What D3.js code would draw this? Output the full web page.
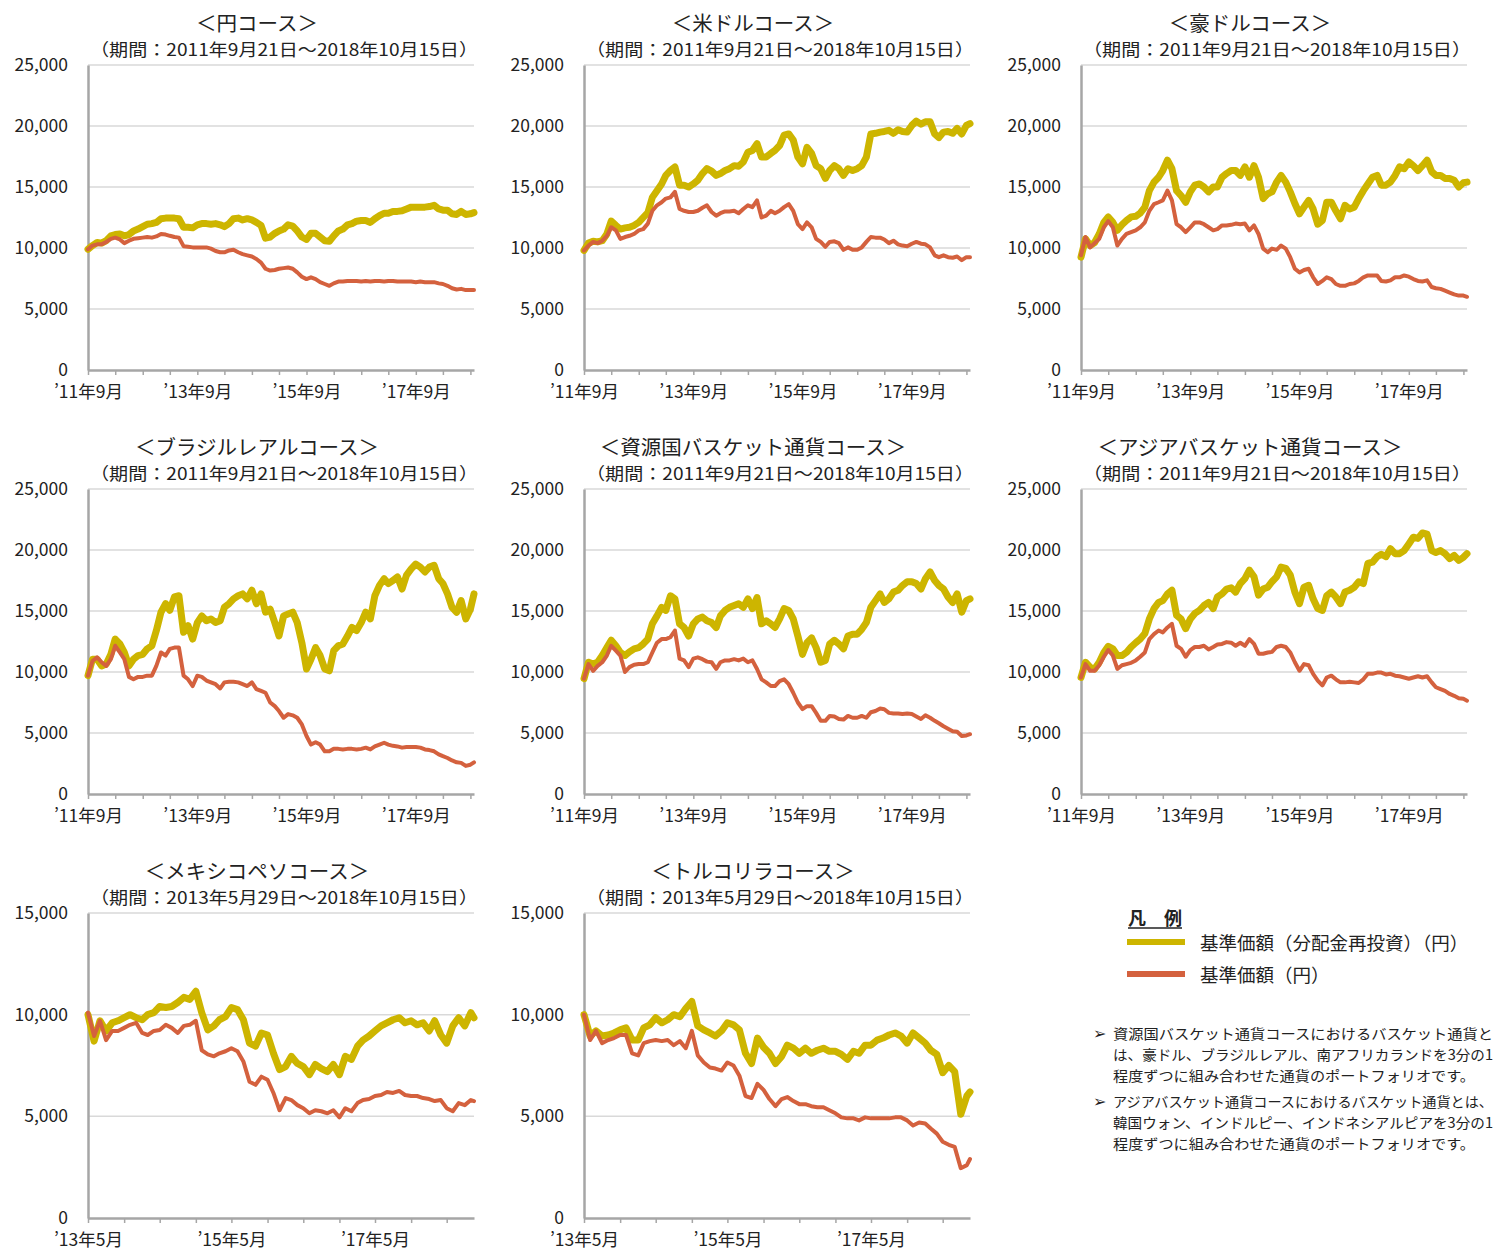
<!DOCTYPE html>
<html lang="ja">
<head>
<meta charset="utf-8">
<script src="https://cdn.jsdelivr.net/npm/d3@7"></script>
<style>
  body { margin: 0; background: #fff; }
  svg text { font-family: "Noto Sans CJK JP", "Noto Sans", sans-serif; fill: #222; }
</style>
</head>
<body>
<svg id="chart" width="1504" height="1251"></svg>
<script>
// Monthly readings (one value per month from the start date, last value = final day)

const yenReinvest = [9900,10200,10450,10400,10600,11000,11100,11150,11000,11100,
  11400,11550,11750,11950,12000,12100,12400,12450,12450,12450,
  12400,11700,11700,11650,11900,12000,12000,11950,12000,11900,
  11750,12000,12400,12450,12300,12400,12300,12100,11850,10800,
  10900,11200,11400,11550,11900,11800,11400,10900,10700,11200,
  11200,10900,10600,10550,11000,11400,11550,11900,12000,12200,
  12250,12250,12100,12400,12650,12850,12850,13000,13000,13050,
  13200,13350,13350,13350,13350,13400,13500,13200,13100,13100,
  12800,12750,13000,12750,12800,12900];
const yenNav = [9900,10200,10300,10300,10500,10750,10850,10700,10400,10600,
  10750,10800,10850,10900,10850,10950,11150,11100,11000,10900,
  10850,10150,10100,10050,10050,10050,10050,9950,9750,9650,
  9650,9800,9850,9650,9500,9400,9300,9100,8800,8300,
  8150,8200,8300,8350,8400,8300,8000,7650,7450,7600,
  7450,7200,7050,6900,7100,7250,7250,7300,7300,7300,
  7250,7300,7250,7300,7300,7250,7300,7300,7250,7250,
  7250,7250,7200,7250,7200,7200,7200,7100,7050,6900,
  6700,6600,6650,6550,6550,6550];

const usdReinvest = [9800,10400,10550,10500,10600,11150,12200,11850,11550,11650,
  11700,11850,12100,12500,12900,14150,14700,15250,15950,16350,
  16650,15150,15150,15000,15250,15550,16100,16500,16300,15950,
  16100,16350,16500,16750,16700,17050,17850,18000,18550,17450,
  17450,17750,18000,18400,19250,19350,18850,17450,16900,18250,
  17750,16750,16500,15700,16350,16750,16500,15950,16500,16350,
  16500,16750,17450,19350,19400,19500,19550,19650,19400,19700,
  19550,19500,20050,20400,20150,20350,20350,19350,19050,19500,
  19550,19400,19800,19350,20050,20200];
const usdNav = [9800,10200,10500,10400,10600,11000,11700,11450,10750,10900,
  11000,11150,11450,11550,12000,13050,13500,13750,14050,14150,
  14600,13200,13050,12950,12950,13050,13300,13500,12950,12650,
  12850,13000,13000,13050,12850,13200,13500,13350,13900,12500,
  12650,13050,12850,13050,13350,13600,13050,11950,11550,12100,
  11700,10750,10500,10100,10500,10550,10400,9850,10050,9850,
  9850,10050,10500,10900,10850,10850,10700,10400,10600,10300,
  10200,10150,10350,10500,10350,10300,10050,9400,9250,9400,
  9250,9200,9300,9000,9250,9250];

const audReinvest = [9250,10750,10200,10450,11150,12100,12550,12100,11450,11900,
  12250,12550,12600,12850,13350,14700,15400,15800,16350,17200,
  16500,14700,14300,13750,14600,15150,15250,15000,14600,15000,
  15000,15800,16100,16350,16350,15950,16650,15800,16750,15800,
  14050,14450,14600,15400,15950,15400,14600,13650,12800,13350,
  13900,13200,11950,12250,13750,13750,13050,12400,13500,13200,
  13350,14050,14700,15250,15800,15950,15150,15150,15400,15950,
  16650,16500,17050,16750,16350,16750,17200,16250,15950,15950,
  15700,15700,15550,15000,15350,15400];
const audNav = [9400,10900,10050,10400,10750,11700,12200,11700,10200,10750,
  11150,11300,11450,11700,12100,13050,13600,13750,13900,14700,
  13900,11950,11700,11300,11700,12100,12100,11950,11700,11450,
  11550,11850,11850,11900,12000,11950,12000,11450,11850,11150,
  9950,9650,9950,9850,10200,9950,9250,8300,8000,8200,
  8300,7600,7050,7300,7600,7450,7050,6900,6900,7050,
  7100,7300,7600,7750,7750,7750,7300,7250,7350,7600,
  7600,7750,7650,7450,7300,7250,7350,6800,6700,6650,
  6500,6350,6200,6100,6100,6000];

const brlReinvest = [9700,11050,11050,10500,10650,11450,12700,12300,11600,10500,
  11050,11350,11450,11900,12150,13400,14900,15600,15050,16150,
  16250,13250,13800,12700,14050,14600,14200,14350,14050,14200,
  15300,15600,16000,16250,16400,16000,16700,15600,16400,14900,
  15150,14050,12950,14600,14750,14900,14050,12400,10250,11050,
  12000,11350,10250,10100,11750,12150,12300,12950,13650,13400,
  14050,14900,14350,16250,17100,17650,17250,17500,17800,16800,
  17950,18450,18850,18600,18200,18600,18750,17650,17250,16400,
  15300,14900,15850,14350,15150,16400];
const brlNav = [9700,10900,11200,10800,10500,11050,12150,11600,11050,9600,
  9400,9600,9600,9700,9700,10500,11600,11350,11900,12000,
  12000,9700,9400,8850,9700,9600,9300,9150,9000,8650,
  9150,9200,9200,9150,9000,8850,9150,8600,8450,8300,
  7500,7200,6800,6250,6550,6450,6250,5700,4750,4050,
  4250,4050,3500,3500,3700,3700,3650,3700,3700,3650,
  3700,3800,3650,3900,4050,4200,4050,3950,3900,3800,
  3850,3850,3850,3800,3650,3600,3500,3250,3100,2950,
  2750,2600,2550,2300,2400,2600];

const resReinvest = [9450,10800,10650,10800,11350,12000,12600,12150,11600,11350,
  11650,11900,12000,12300,12700,13950,14600,15300,15050,16250,
  16000,13950,13650,12950,13950,14350,14500,14200,14050,13650,
  14600,15050,15300,15450,15600,15300,16000,15200,16100,13950,
  14200,13950,13650,14350,15200,15050,14350,12950,11450,12400,
  12800,12000,10800,10950,12300,12600,12300,11900,12950,13100,
  13100,13500,14050,15300,15850,16400,15700,16000,16550,16700,
  17100,17400,17400,17250,16800,17650,18200,17500,17100,16800,
  16150,15700,16400,14900,15850,16000];
const resNav = [9450,10650,10100,10500,10800,11350,12150,11750,11350,10000,
  10400,10600,10650,10650,10800,11600,12400,12700,12700,12850,
  13400,11100,10950,10400,11100,11200,11050,10850,10800,10250,
  10800,10950,10950,11050,10950,11100,10800,10950,10250,9400,
  9150,8850,8850,9250,9400,9000,8300,7500,6950,7200,
  7200,6650,6000,6000,6400,6350,6150,6100,6400,6250,
  6250,6400,6250,6700,6800,7000,6950,6650,6600,6600,
  6550,6600,6550,6350,6150,6450,6250,6000,5800,5550,
  5350,5150,5100,4750,4800,4900];

const asiaReinvest = [9550,10800,10400,10250,10800,11600,12100,11900,11350,11350,
  11600,12050,12400,12700,13150,14350,15200,15700,15850,16400,
  16700,14650,14350,13550,14350,14800,15050,15450,15700,15200,
  16150,16400,16800,16900,16550,17250,17650,18350,17800,16300,
  16800,16950,17400,17800,18600,18500,17950,16550,15600,16950,
  17100,16000,15200,15050,16250,16550,16150,15600,16550,16700,
  16950,17400,17250,18900,19000,19450,19650,19450,20100,19700,
  19700,19950,20500,21050,20950,21400,21300,19950,19800,19950,
  19700,19300,19550,19150,19400,19700];
const asiaNav = [9550,10650,10100,10100,10550,11250,11800,11350,10250,10550,
  10650,10750,10950,11250,11600,12700,13100,13400,13250,13650,
  13950,12150,11900,11250,11800,12050,12050,12150,11850,12050,
  12250,12300,12450,12400,12150,12400,12150,12700,12300,11500,
  11500,11600,11650,12050,12150,12050,11600,10800,10100,10650,
  10550,9850,9300,8900,9550,9700,9400,9150,9150,9200,
  9150,9100,9400,9850,9850,9950,9950,9800,9850,9700,
  9650,9550,9450,9550,9650,9550,9650,9150,8750,8600,
  8450,8200,8050,7850,7800,7650];

const mxnReinvest = [10000,8700,9700,9200,9600,9700,9850,10000,9850,9750,
  10000,10100,10400,10350,10400,10600,10850,10750,11150,10100,
  9250,9450,9750,9900,10350,10250,9750,8600,8450,9100,
  9000,8100,7300,7450,7950,7600,7450,7050,7550,7350,
  7200,7550,7050,7950,7800,8450,8750,8950,9200,9450,
  9600,9750,9850,9600,9700,9500,9600,9200,9700,9000,
  8600,9450,9850,9450,10100,9850];
const mxnNav = [10100,8950,9700,8750,9200,9200,9350,9500,9600,9100,
  9000,9200,9250,9500,9350,9100,9450,9500,9700,8250,
  8050,7950,8100,8200,8350,8200,7700,6700,6550,6950,
  6800,6150,5300,5900,5800,5550,5400,5150,5300,5250,
  5150,5300,4950,5400,5250,5650,5800,5850,6000,6050,
  6200,6150,6250,6050,6000,6000,5900,5850,5750,5800,
  5400,5250,5650,5550,5800,5750];

const tryReinvest = [10000,8950,9200,8950,9000,9100,9250,9350,8750,8750,
  9350,9500,9850,9600,9750,10000,9900,10300,10650,9450,
  9250,9100,8950,9200,9600,9500,9250,8100,7600,8850,
  8400,8100,7600,7950,8500,8350,8100,8350,8100,8250,
  8350,8200,8200,8050,7800,8200,8100,8500,8500,8750,
  8850,9000,9100,8950,8600,9100,8850,8600,8250,8050,
  7150,7500,7200,5100,6000,6200];
const tryNav = [10000,8750,9200,8600,8750,8850,9000,9000,8100,8000,
  8600,8700,8750,8700,8750,8500,8700,8350,9200,8000,
  7650,7400,7350,7250,7650,7500,7000,6000,5900,6600,
  6300,5850,5500,5850,5950,5750,5600,5600,5500,5450,
  5450,5300,5150,4950,4900,4900,4800,4950,4900,4900,
  4900,4900,4950,4950,4800,4550,4700,4650,4400,4150,
  3750,3600,3500,2450,2600,2900];

const longTickLabels = ["’11年9月", "’13年9月", "’15年9月", "’17年9月"];
const shortTickLabels = ["’13年5月", "’15年5月", "’17年5月"];

const longPeriod = "（期間：2011年9月21日～2018年10月15日）";
const shortPeriod = "（期間：2013年5月29日～2018年10月15日）";

const legendLabels = ["基準価額（分配金再投資）（円）", "基準価額（円）"];
const noteLines = [
  ["資源国バスケット通貨コースにおけるバスケット通貨と",
   "は、豪ドル、ブラジルレアル、南アフリカランドを3分の1",
   "程度ずつに組み合わせた通貨のポートフォリオです。"],
  ["アジアバスケット通貨コースにおけるバスケット通貨とは、",
   "韓国ウォン、インドルピー、インドネシアルピアを3分の1",
   "程度ずつに組み合わせた通貨のポートフォリオです。"]
];

const yellow = "#cdb500";
const red = "#d4613e";

const longStart = new Date(2011, 8, 21), longEnd = new Date(2018, 9, 15);
const shortStart = new Date(2013, 4, 29), shortEnd = new Date(2018, 9, 15);

function sampleDates(start, end, months) {
  // one sample per month from the start date, then the final day
  const dates = d3.range(months).map((i) => d3.timeMonth.offset(start, i));
  dates.push(end);
  return dates;
}

const longDates = sampleDates(longStart, longEnd, 85);
const shortDates = sampleDates(shortStart, shortEnd, 65);

const panels = [
  { title: "＜円コース＞", reinvest: yenReinvest, nav: yenNav, long: true },
  { title: "＜米ドルコース＞", reinvest: usdReinvest, nav: usdNav, long: true },
  { title: "＜豪ドルコース＞", reinvest: audReinvest, nav: audNav, long: true },
  { title: "＜ブラジルレアルコース＞", reinvest: brlReinvest, nav: brlNav, long: true },
  { title: "＜資源国バスケット通貨コース＞", reinvest: resReinvest, nav: resNav, long: true },
  { title: "＜アジアバスケット通貨コース＞", reinvest: asiaReinvest, nav: asiaNav, long: true },
  { title: "＜メキシコペソコース＞", reinvest: mxnReinvest, nav: mxnNav, long: false },
  { title: "＜トルコリラコース＞", reinvest: tryReinvest, nav: tryNav, long: false },
];

const svg = d3.select("#chart");

// grid layout of the small multiples
const colX = [88, 584, 1081];
const rowTop = [65, 489, 913];
const plotW = 386, plotH = 305;

function drawPanel(p, idx) {
  const x0 = colX[idx % 3];
  const y0 = rowTop[Math.floor(idx / 3)];
  const dates = p.long ? longDates : shortDates;
  const start = dates[0], end = dates[dates.length - 1];
  const yMax = p.long ? 25000 : 15000;
  const labels = p.long ? longTickLabels : shortTickLabels;

  const x = d3.scaleTime().domain([start, end]).range([x0, x0 + plotW]);
  const y = d3.scaleLinear().domain([0, yMax]).range([y0 + plotH, y0]);

  const g = svg.append("g").attr("class", "panel");

  // titles
  g.append("text")
    .attr("x", x0 + 169)
    .attr("y", y0 - 43)
    .attr("text-anchor", "middle")
    .attr("dominant-baseline", "central")
    .attr("font-size", 20.5)
    .text(p.title);
  g.append("text")
    .attr("x", x0 + 196)
    .attr("y", y0 - 17)
    .attr("text-anchor", "middle")
    .attr("dominant-baseline", "central")
    .attr("font-size", 17)
    .attr("textLength", 388)
    .attr("lengthAdjust", "spacingAndGlyphs")
    .text(p.long ? longPeriod : shortPeriod);

  // horizontal gridlines
  const yTicks = d3.range(0, yMax + 1, 5000);
  g.selectAll(".grid")
    .data(yTicks.slice(1))
    .join("line")
    .attr("class", "grid")
    .attr("x1", x0)
    .attr("x2", x0 + plotW)
    .attr("y1", (d) => y(d))
    .attr("y2", (d) => y(d))
    .attr("stroke", "#d9d9d9")
    .attr("stroke-width", 1.5);

  // y axis
  g.append("g")
    .attr("transform", `translate(${x0},0)`)
    .call(d3.axisLeft(y).tickValues(yTicks).tickSize(0).tickPadding(20).tickFormat(d3.format(",")))
    .call((a) => a.select(".domain").attr("stroke", "#a6a6a6").attr("stroke-width", 2.5))
    .call((a) => a.selectAll("text").attr("font-size", 17.5).attr("fill", "#222"));

  // x axis: a tick every 6 months, labels every 2 years
  const tickDates = [];
  for (let i = 0; d3.timeMonth.offset(start, 6 * i) <= end; i++) {
    tickDates.push(d3.timeMonth.offset(start, 6 * i));
  }
  g.append("g")
    .attr("transform", `translate(0,${y0 + plotH})`)
    .call(
      d3.axisBottom(x)
        .tickValues(tickDates)
        .tickSize(5)
        .tickSizeOuter(0)
        .tickPadding(11)
        .tickFormat((d, i) => (i % 4 === 0 ? labels[i / 4] : ""))
    )
    .call((a) => a.select(".domain").attr("stroke", "#a6a6a6").attr("stroke-width", 2.5))
    .call((a) => a.selectAll(".tick line").attr("stroke", "#a6a6a6").attr("stroke-width", 1.5))
    .call((a) => a.selectAll("text").attr("font-size", 17.5).attr("fill", "#222"));

  const line = d3
    .line()
    .x((d, i) => x(dates[i]))
    .y((d) => y(d));

  g.append("path")
    .datum(p.reinvest)
    .attr("d", line)
    .attr("fill", "none")
    .attr("stroke", yellow)
    .attr("stroke-width", 7)
    .attr("stroke-linejoin", "round")
    .attr("stroke-linecap", "round");

  g.append("path")
    .datum(p.nav)
    .attr("d", line)
    .attr("fill", "none")
    .attr("stroke", red)
    .attr("stroke-width", 4)
    .attr("stroke-linejoin", "round")
    .attr("stroke-linecap", "round");
}

panels.forEach(drawPanel);

// legend
const legend = svg.append("g");
legend.append("text")
  .attr("x", 1128)
  .attr("y", 917)
  .attr("dominant-baseline", "central")
  .attr("font-size", 18)
  .attr("font-weight", "bold")
  .text("凡　例");
legend.append("line")
  .attr("x1", 1128).attr("x2", 1182)
  .attr("y1", 928).attr("y2", 928)
  .attr("stroke", "#222").attr("stroke-width", 1.5);

[yellow, red].forEach((c, i) => {
  const ly = 942 + i * 32;
  legend.append("line")
    .attr("x1", 1127).attr("x2", 1185)
    .attr("y1", ly).attr("y2", ly)
    .attr("stroke", c).attr("stroke-width", 6);
  legend.append("text")
    .attr("x", 1200)
    .attr("y", ly)
    .attr("dominant-baseline", "central")
    .attr("font-size", 18.5)
    .text(legendLabels[i]);
});

// notes
const notes = svg.append("g");
noteLines.forEach((block, b) => {
  const by = 1033 + b * 68;
  notes.append("text")
    .attr("x", 1093)
    .attr("y", by)
    .attr("dominant-baseline", "central")
    .attr("font-size", 16)
    .style("font-family", "DejaVu Sans")
    .text("➢");
  block.forEach((t, j) => {
    notes.append("text")
      .attr("x", 1113)
      .attr("y", by + j * 21)
      .attr("dominant-baseline", "central")
      .attr("font-size", 14.2)
      .attr("textLength", j === 2 ? 362 : 380)
      .attr("lengthAdjust", "spacingAndGlyphs")
      .text(t);
  });
});
</script>
</body>
</html>
